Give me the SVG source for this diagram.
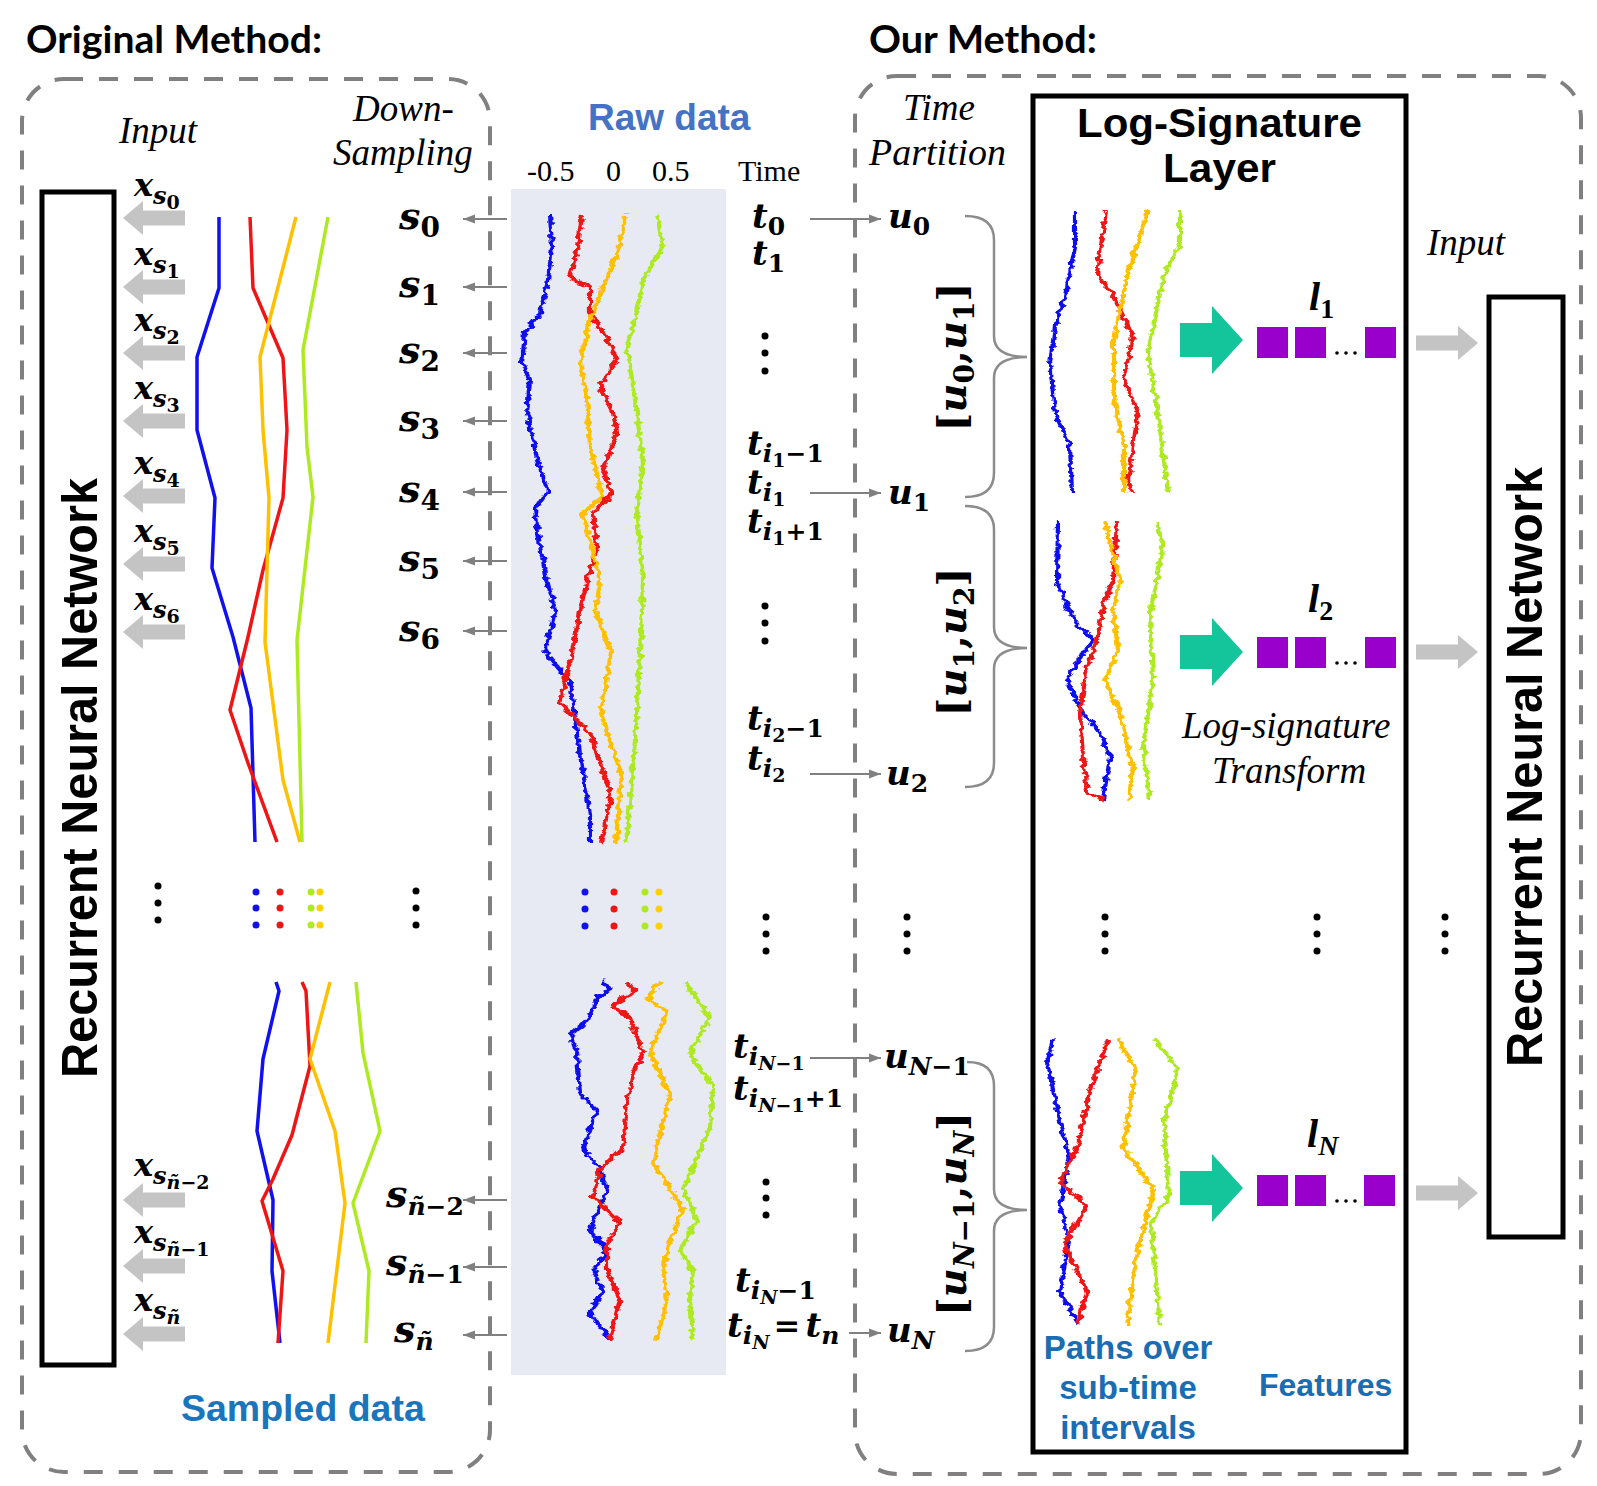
<svg xmlns="http://www.w3.org/2000/svg" width="1597" height="1486" viewBox="0 0 1597 1486">
<defs>
<style>
.title{font-family:Lato,"Liberation Sans",sans-serif;font-weight:bold;font-size:38px;fill:#000}
.it{font-family:"Liberation Serif",serif;font-style:italic;font-size:37px;fill:#000}
.rm{font-family:"Liberation Serif",serif;font-size:30px;fill:#000}
.m{font-family:"DejaVu Serif",serif;font-weight:bold;font-style:italic;fill:#000}
.l{font-family:"Liberation Serif",serif;font-weight:bold;font-style:italic;fill:#000}
.n{font-style:normal}
.bs{font-family:"Liberation Sans",Arial,sans-serif;font-weight:bold}
.dash{fill:none;stroke:#808080;stroke-width:4;stroke-dasharray:19 16}
.box{fill:none;stroke:#000;stroke-width:5}
.conn{stroke:#808080;stroke-width:2;fill:none;marker-end:url(#ah)}
.brace{fill:none;stroke:#8c8c8c;stroke-width:2.5}
.sp{fill:none;stroke-width:3.5;stroke-linejoin:round}
.rp{fill:none;stroke-width:4.2;stroke-linejoin:round}
.b{stroke:#1010f0}.r{stroke:#f01414}.y{stroke:#ffc000}.g{stroke:#aeea22}
.gray{fill:#c4c4c4}
.teal{fill:#14c49a}
.pur{fill:#9a00cc}
.dot{fill:#000}
.bd{fill:#1010f0}.rd{fill:#f01414}.yd{fill:#ffd000}.gd{fill:#aeea22}
</style>
<marker id="ah" markerWidth="12" markerHeight="10" refX="12" refY="5" orient="auto" markerUnits="userSpaceOnUse"><path d="M0,0.5 L12,5 L0,9.5 Z" fill="#808080"/></marker>
<path id="garL" d="M0,0 L20,-17 L20,-7.5 L62,-7.5 L62,7.5 L20,7.5 L20,17 Z"/>
<path id="garR" d="M0,0 L-20,-17 L-20,-7.5 L-62,-7.5 L-62,7.5 L-20,7.5 L-20,17 Z"/>
<path id="tealA" d="M0,0 L-31,-34 L-31,-17 L-63,-17 L-63,17 L-31,17 L-31,34 Z"/>
<filter id="jit" filterUnits="userSpaceOnUse" x="0" y="0" width="1597" height="1486">
<feTurbulence type="fractalNoise" baseFrequency="0.12 0.2" numOctaves="2" seed="7" result="noise"/>
<feDisplacementMap in="SourceGraphic" in2="noise" scale="8" xChannelSelector="R" yChannelSelector="G"/>
</filter>
</defs>
<rect width="1597" height="1486" fill="#fff"/>

<g id="title-original"><text class="title" x="26" y="53" textLength="296" lengthAdjust="spacingAndGlyphs">Original Method:</text></g>
<g id="title-our"><text class="title" x="869" y="53" textLength="228" lengthAdjust="spacingAndGlyphs">Our Method:</text></g>

<g id="box-original"><rect class="dash" x="22" y="79" width="468" height="1393" rx="42"/></g>
<g id="box-our"><rect class="dash" x="855" y="76" width="726" height="1398" rx="42"/></g>

<g id="raw-data-bg"><rect x="511" y="189" width="215" height="1186" fill="#e7eaf3"/></g>

<g id="rnn-left">
<rect class="box" x="42" y="192" width="72" height="1173"/>
<text class="bs" transform="translate(97,778) rotate(-90)" text-anchor="middle" font-size="50" textLength="600" lengthAdjust="spacingAndGlyphs">Recurrent Neural Network</text>
</g>
<g id="rnn-right">
<rect class="box" x="1489" y="297" width="74" height="940"/>
<text class="bs" transform="translate(1542,767) rotate(-90)" text-anchor="middle" font-size="50" textLength="600" lengthAdjust="spacingAndGlyphs">Recurrent Neural Network</text>
</g>
<g id="logsig-layer">
<rect class="box" x="1033" y="96" width="373" height="1356"/>
<text class="bs" x="1077" y="137" font-size="41" textLength="285" lengthAdjust="spacingAndGlyphs">Log-Signature</text>
<text class="bs" x="1163" y="182" font-size="41" textLength="113" lengthAdjust="spacingAndGlyphs">Layer</text>
</g>

<g id="labels-headers">
<text class="it" x="119" y="143" font-size="36">Input</text>
<text class="it" x="353" y="121">Down-</text>
<text class="it" x="333" y="165">Sampling</text>
<text class="bs" x="588" y="130" font-size="37" fill="#4472c4">Raw data</text>
<text class="rm" x="527" y="181">-0.5</text>
<text class="rm" x="606" y="181">0</text>
<text class="rm" x="652" y="181">0.5</text>
<text class="rm" x="738" y="181">Time</text>
<text class="it" x="903" y="120">Time</text>
<text class="it" x="869" y="165" textLength="137" lengthAdjust="spacingAndGlyphs">Partition</text>
<text class="it" x="1427" y="255" font-size="36">Input</text>
<text class="bs" x="181" y="1421" font-size="37.5" fill="#1b75bc">Sampled data</text>
<text class="bs" font-size="33" fill="#1a6cb3" text-anchor="middle"><tspan x="1128" y="1359">Paths over</tspan><tspan x="1128" y="1399">sub-time</tspan><tspan x="1128" y="1439">intervals</tspan></text>
<text class="bs" x="1259" y="1396" font-size="32" fill="#1a6cb3">Features</text>
<text class="it" x="1182" y="738">Log-signature</text>
<text class="it" x="1212" y="783">Transform</text>
</g>

<g id="x-labels" class="m" font-size="32">
<text x="134" y="196">x<tspan font-size="24" dy="8">s</tspan><tspan class="n" font-size="19" dy="5">0</tspan></text>
<text x="134" y="265">x<tspan font-size="24" dy="8">s</tspan><tspan class="n" font-size="19" dy="5">1</tspan></text>
<text x="134" y="331">x<tspan font-size="24" dy="8">s</tspan><tspan class="n" font-size="19" dy="5">2</tspan></text>
<text x="134" y="399">x<tspan font-size="24" dy="8">s</tspan><tspan class="n" font-size="19" dy="5">3</tspan></text>
<text x="134" y="474">x<tspan font-size="24" dy="8">s</tspan><tspan class="n" font-size="19" dy="5">4</tspan></text>
<text x="134" y="542">x<tspan font-size="24" dy="8">s</tspan><tspan class="n" font-size="19" dy="5">5</tspan></text>
<text x="134" y="610">x<tspan font-size="24" dy="8">s</tspan><tspan class="n" font-size="19" dy="5">6</tspan></text>
<text x="134" y="1176">x<tspan font-size="24" dy="8">s</tspan><tspan font-size="19" dy="5">ñ</tspan><tspan class="n" font-size="19">−2</tspan></text>
<text x="134" y="1243">x<tspan font-size="24" dy="8">s</tspan><tspan font-size="19" dy="5">ñ</tspan><tspan class="n" font-size="19">−1</tspan></text>
<text x="134" y="1311">x<tspan font-size="24" dy="8">s</tspan><tspan font-size="19" dy="5">ñ</tspan></text>
</g>

<g id="s-labels" class="m" font-size="38">
<text x="399" y="229">s<tspan class="n" font-size="28" dy="8">0</tspan></text>
<text x="399" y="297">s<tspan class="n" font-size="28" dy="8">1</tspan></text>
<text x="399" y="363">s<tspan class="n" font-size="28" dy="8">2</tspan></text>
<text x="399" y="431">s<tspan class="n" font-size="28" dy="8">3</tspan></text>
<text x="399" y="502">s<tspan class="n" font-size="28" dy="8">4</tspan></text>
<text x="399" y="571">s<tspan class="n" font-size="28" dy="8">5</tspan></text>
<text x="399" y="641">s<tspan class="n" font-size="28" dy="8">6</tspan></text>
<text x="386" y="1207">s<tspan font-size="25" dy="8">ñ</tspan><tspan class="n" font-size="25">−2</tspan></text>
<text x="386" y="1275">s<tspan font-size="25" dy="8">ñ</tspan><tspan class="n" font-size="25">−1</tspan></text>
<text x="394" y="1342">s<tspan font-size="25" dy="8">ñ</tspan></text>
</g>

<g id="t-labels" class="m" font-size="34">
<text x="752" y="228">t<tspan class="n" font-size="25" dy="7">0</tspan></text>
<text x="752" y="265">t<tspan class="n" font-size="25" dy="7">1</tspan></text>
<text x="747" y="455">t<tspan font-size="25" dy="7">i</tspan><tspan class="n" font-size="19" dy="5">1</tspan><tspan class="n" font-size="25" dy="-5">−1</tspan></text>
<text x="747" y="494">t<tspan font-size="25" dy="7">i</tspan><tspan class="n" font-size="19" dy="5">1</tspan></text>
<text x="747" y="533">t<tspan font-size="25" dy="7">i</tspan><tspan class="n" font-size="19" dy="5">1</tspan><tspan class="n" font-size="25" dy="-5">+1</tspan></text>
<text x="747" y="730">t<tspan font-size="25" dy="7">i</tspan><tspan class="n" font-size="19" dy="5">2</tspan><tspan class="n" font-size="25" dy="-5">−1</tspan></text>
<text x="747" y="770">t<tspan font-size="25" dy="7">i</tspan><tspan class="n" font-size="19" dy="5">2</tspan></text>
<text x="733" y="1058">t<tspan font-size="25" dy="7">i</tspan><tspan font-size="19" dy="5">N</tspan><tspan class="n" font-size="19">−1</tspan></text>
<text x="733" y="1100">t<tspan font-size="25" dy="7">i</tspan><tspan font-size="19" dy="5">N</tspan><tspan class="n" font-size="19">−1</tspan><tspan class="n" font-size="25" dy="-5">+1</tspan></text>
<text x="735" y="1292">t<tspan font-size="25" dy="7">i</tspan><tspan font-size="19" dy="5">N</tspan><tspan class="n" font-size="25" dy="-5">−1</tspan></text>
<text x="727" y="1337">t<tspan font-size="25" dy="7">i</tspan><tspan font-size="19" dy="5">N</tspan><tspan class="n" font-size="32" dx="4" dy="-12">=</tspan><tspan font-size="34" dx="5">t</tspan><tspan font-size="25" dy="7">n</tspan></text>
</g>

<g id="u-labels" class="m" font-size="34">
<text x="888" y="228">u<tspan class="n" font-size="25" dy="7">0</tspan></text>
<text x="888" y="504">u<tspan class="n" font-size="25" dy="7">1</tspan></text>
<text x="886" y="785">u<tspan class="n" font-size="25" dy="7">2</tspan></text>
<text x="884" y="1068">u<tspan font-size="25" dy="7">N</tspan><tspan class="n" font-size="25">−1</tspan></text>
<text x="887" y="1342">u<tspan font-size="25" dy="7">N</tspan></text>
</g>

<g id="intervals">
<path class="brace" d="M965,216 Q994,216 994,240 L994,336 Q994,357 1027,357 Q994,357 994,378 L994,473 Q994,497 965,497"/>
<path class="brace" d="M965,506 Q994,506 994,530 L994,627 Q994,648 1027,648 Q994,648 994,669 L994,763 Q994,787 965,787"/>
<path class="brace" d="M967,1062 Q994,1062 994,1086 L994,1189 Q994,1210 1027,1210 Q994,1210 994,1231 L994,1327 Q994,1351 965,1351"/>
<text class="m" font-size="40" transform="translate(966,357) rotate(-90)" text-anchor="middle"><tspan class="n">[</tspan>u<tspan class="n" font-size="28" dy="8">0</tspan><tspan class="n" font-size="40" dy="-8">,</tspan>u<tspan class="n" font-size="28" dy="8">1</tspan><tspan class="n" font-size="40" dy="-8">]</tspan></text>
<text class="m" font-size="40" transform="translate(966,642) rotate(-90)" text-anchor="middle"><tspan class="n">[</tspan>u<tspan class="n" font-size="28" dy="8">1</tspan><tspan class="n" font-size="40" dy="-8">,</tspan>u<tspan class="n" font-size="28" dy="8">2</tspan><tspan class="n" font-size="40" dy="-8">]</tspan></text>
<text class="m" font-size="40" transform="translate(966,1214) rotate(-90)" text-anchor="middle"><tspan class="n">[</tspan>u<tspan font-size="28" dy="8">N</tspan><tspan class="n" font-size="28">−1</tspan><tspan class="n" font-size="40" dy="-8">,</tspan>u<tspan font-size="28" dy="8">N</tspan><tspan class="n" font-size="40" dy="-8">]</tspan></text>
</g>

<g id="sampled-paths">
<polyline class="sp b" points="219,217 219,288 197,357 197,430 215,498 212,568 233,637 251,708 255,842"/>
<polyline class="sp r" points="250,217 253,288 283,358 287,430 283,498 263,570 248,637 230,710 248,763 277,842"/>
<polyline class="sp y" points="296,217 260,357 263,430 269,498 265,642 283,780 300,842"/>
<polyline class="sp g" points="328,217 303,350 307,447 313,497 297,640 302,842"/>
<polyline class="sp b" points="276,982 279,991 263,1059 257,1131 273,1200 272,1271 280,1343"/>
<polyline class="sp r" points="302,982 306,991 310,1066 292,1135 273,1179 262,1201 283,1271 278,1343"/>
<polyline class="sp y" points="330,982 310,1059 335,1131 345,1203 328,1343"/>
<polyline class="sp g" points="356,982 363,1053 380,1131 353,1203 369,1271 366,1343"/>
<circle class="bd" cx="256" cy="892" r="3.5"/><circle class="bd" cx="256" cy="908" r="3.5"/><circle class="bd" cx="256" cy="925" r="3.5"/>
<circle class="rd" cx="280" cy="892" r="3.5"/><circle class="rd" cx="280" cy="908" r="3.5"/><circle class="rd" cx="280" cy="925" r="3.5"/>
<circle class="gd" cx="311" cy="892" r="3.5"/><circle class="gd" cx="311" cy="908" r="3.5"/><circle class="gd" cx="311" cy="925" r="3.5"/>
<circle class="yd" cx="320" cy="892" r="3.5"/><circle class="yd" cx="320" cy="908" r="3.5"/><circle class="yd" cx="320" cy="925" r="3.5"/>
</g>

<g id="raw-paths" filter="url(#jit)">
<polyline class="rp b" points="550,215 552,247 548,280 540,313 525,333 522,363 530,380 527,413 538,463 548,490 535,510 540,547 547,580 555,611 545,652 570,682 580,754 590,815 590,843"/>
<polyline class="rp r" points="582,215 578,247 570,277 590,287 590,313 608,340 617,360 600,387 613,413 617,433 603,470 612,493 593,513 597,547 587,580 580,611 570,662 560,703 590,733 611,794 601,843"/>
<polyline class="rp y" points="625,215 620,247 603,287 590,320 580,363 587,397 590,447 603,497 583,513 600,580 596,611 611,652 601,713 621,774 616,843"/>
<polyline class="rp g" points="657,215 663,247 643,280 637,313 627,347 637,413 643,463 637,513 643,580 642,611 637,713 631,794 626,843"/>
<polyline class="rp b" points="603,982 610,989 597,998 587,1022 570,1035 577,1053 580,1094 597,1111 583,1148 600,1169 607,1189 590,1230 607,1251 593,1271 603,1292 590,1312 610,1340"/>
<polyline class="rp r" points="627,982 635,991 613,1005 630,1018 643,1053 633,1073 627,1104 623,1148 600,1169 593,1196 620,1223 607,1244 607,1271 620,1299 613,1326 610,1340"/>
<polyline class="rp y" points="660,982 647,998 667,1012 650,1053 670,1094 653,1162 683,1210 670,1241 663,1271 667,1299 657,1340"/>
<polyline class="rp g" points="685,982 710,1018 690,1053 713,1087 710,1128 683,1189 697,1220 680,1251 693,1271 690,1299 693,1340"/>
<polyline class="rp b" points="1075,210 1075,247 1065,297 1055,327 1050,363 1055,413 1070,447 1072,492"/>
<polyline class="rp r" points="1106,210 1097,273 1114,297 1133,337 1124,380 1138,413 1128,480 1131,492"/>
<polyline class="rp y" points="1148,210 1128,273 1114,340 1114,397 1124,447 1124,492"/>
<polyline class="rp g" points="1180,210 1180,243 1163,277 1148,353 1158,413 1168,492"/>
<polyline class="rp b" points="1058,522 1057,580 1067,607 1077,623 1093,640 1083,653 1067,680 1073,693 1083,713 1100,733 1110,757 1103,800"/>
<polyline class="rp r" points="1117,522 1113,580 1103,607 1097,640 1087,667 1080,713 1083,757 1087,793 1103,800"/>
<polyline class="rp y" points="1105,522 1120,580 1113,610 1118,650 1105,680 1120,713 1133,770 1128,800"/>
<polyline class="rp g" points="1157,522 1163,547 1150,613 1153,680 1143,747 1150,800"/>
<polyline class="rp b" points="1053,1039 1047,1063 1060,1121 1069,1155 1060,1206 1069,1241 1060,1292 1078,1323"/>
<polyline class="rp r" points="1109,1039 1091,1087 1078,1145 1060,1182 1087,1206 1064,1244 1087,1292 1078,1323"/>
<polyline class="rp y" points="1118,1039 1136,1070 1123,1148 1154,1189 1136,1258 1127,1326"/>
<polyline class="rp g" points="1155,1039 1178,1070 1164,1121 1169,1196 1151,1223 1160,1326"/>
</g>
<g id="raw-dots">
<circle class="bd" cx="585" cy="892" r="3.5"/><circle class="bd" cx="585" cy="909" r="3.5"/><circle class="bd" cx="585" cy="926" r="3.5"/>
<circle class="rd" cx="614" cy="892" r="3.5"/><circle class="rd" cx="614" cy="909" r="3.5"/><circle class="rd" cx="614" cy="926" r="3.5"/>
<circle class="gd" cx="645" cy="892" r="3.5"/><circle class="gd" cx="645" cy="909" r="3.5"/><circle class="gd" cx="645" cy="926" r="3.5"/>
<circle class="yd" cx="659" cy="892" r="3.5"/><circle class="yd" cx="659" cy="909" r="3.5"/><circle class="yd" cx="659" cy="926" r="3.5"/>
</g>

<g id="ellipses" class="dot">
<circle cx="158" cy="886" r="3.5"/><circle cx="158" cy="903" r="3.5"/><circle cx="158" cy="920" r="3.5"/>
<circle cx="416" cy="891" r="3.5"/><circle cx="416" cy="908" r="3.5"/><circle cx="416" cy="925" r="3.5"/>
<circle cx="765" cy="336" r="3.5"/><circle cx="765" cy="353" r="3.5"/><circle cx="765" cy="371" r="3.5"/>
<circle cx="765" cy="606" r="3.5"/><circle cx="765" cy="623" r="3.5"/><circle cx="765" cy="641" r="3.5"/>
<circle cx="766" cy="917" r="3.5"/><circle cx="766" cy="934" r="3.5"/><circle cx="766" cy="951" r="3.5"/>
<circle cx="907" cy="917" r="3.5"/><circle cx="907" cy="934" r="3.5"/><circle cx="907" cy="951" r="3.5"/>
<circle cx="1105" cy="917" r="3.5"/><circle cx="1105" cy="934" r="3.5"/><circle cx="1105" cy="951" r="3.5"/>
<circle cx="1317" cy="917" r="3.5"/><circle cx="1317" cy="934" r="3.5"/><circle cx="1317" cy="951" r="3.5"/>
<circle cx="1445" cy="917" r="3.5"/><circle cx="1445" cy="934" r="3.5"/><circle cx="1445" cy="951" r="3.5"/>
<circle cx="766" cy="1182" r="3.5"/><circle cx="766" cy="1198" r="3.5"/><circle cx="766" cy="1215" r="3.5"/>
</g>

<g id="features">
<g id="feat-1"><rect class="pur" x="1257" y="327" width="31" height="31"/><rect class="pur" x="1295" y="327" width="31" height="31"/><rect class="pur" x="1365" y="327" width="31" height="31"/>
<circle cx="1337" cy="353" r="1.8"/><circle cx="1346" cy="353" r="1.8"/><circle cx="1355" cy="353" r="1.8"/>
<text class="l" x="1309" y="310" font-size="40">l<tspan class="n" font-size="28" dy="8">1</tspan></text></g>
<g id="feat-2"><rect class="pur" x="1257" y="637" width="31" height="31"/><rect class="pur" x="1295" y="637" width="31" height="31"/><rect class="pur" x="1365" y="637" width="31" height="31"/>
<circle cx="1337" cy="663" r="1.8"/><circle cx="1346" cy="663" r="1.8"/><circle cx="1355" cy="663" r="1.8"/>
<text class="l" x="1308" y="612" font-size="40">l<tspan class="n" font-size="28" dy="8">2</tspan></text></g>
<g id="feat-N"><rect class="pur" x="1257" y="1175" width="31" height="31"/><rect class="pur" x="1295" y="1175" width="31" height="31"/><rect class="pur" x="1364" y="1175" width="31" height="31"/>
<circle cx="1337" cy="1201" r="1.8"/><circle cx="1346" cy="1201" r="1.8"/><circle cx="1355" cy="1201" r="1.8"/>
<text class="l" x="1307" y="1147" font-size="40">l<tspan font-size="28" dy="8">N</tspan></text></g>
</g>

<g id="connectors">
<line class="conn" x1="507" y1="219" x2="463" y2="219"/>
<line class="conn" x1="507" y1="287" x2="463" y2="287"/>
<line class="conn" x1="507" y1="353" x2="463" y2="353"/>
<line class="conn" x1="507" y1="421" x2="463" y2="421"/>
<line class="conn" x1="507" y1="492" x2="463" y2="492"/>
<line class="conn" x1="507" y1="561" x2="463" y2="561"/>
<line class="conn" x1="507" y1="631" x2="463" y2="631"/>
<line class="conn" x1="507" y1="1200" x2="463" y2="1200"/>
<line class="conn" x1="507" y1="1267" x2="463" y2="1267"/>
<line class="conn" x1="507" y1="1335" x2="463" y2="1335"/>
<line class="conn" x1="810" y1="219" x2="881" y2="219"/>
<line class="conn" x1="810" y1="493" x2="881" y2="493"/>
<line class="conn" x1="810" y1="774" x2="881" y2="774"/>
<line class="conn" x1="810" y1="1058" x2="881" y2="1058"/>
<line class="conn" x1="849" y1="1333" x2="881" y2="1333"/>
<g class="gray">
<use href="#garL" transform="translate(123,218)"/>
<use href="#garL" transform="translate(123,287)"/>
<use href="#garL" transform="translate(123,353)"/>
<use href="#garL" transform="translate(123,421)"/>
<use href="#garL" transform="translate(123,496)"/>
<use href="#garL" transform="translate(123,564)"/>
<use href="#garL" transform="translate(123,632)"/>
<use href="#garL" transform="translate(123,1200)"/>
<use href="#garL" transform="translate(123,1266)"/>
<use href="#garL" transform="translate(123,1334)"/>
<use href="#garR" transform="translate(1478,343)"/>
<use href="#garR" transform="translate(1478,652)"/>
<use href="#garR" transform="translate(1478,1193)"/>
</g>
<g class="teal">
<use href="#tealA" transform="translate(1243,340)"/>
<use href="#tealA" transform="translate(1243,652)"/>
<use href="#tealA" transform="translate(1243,1188)"/>
</g>
</g>
</svg>
